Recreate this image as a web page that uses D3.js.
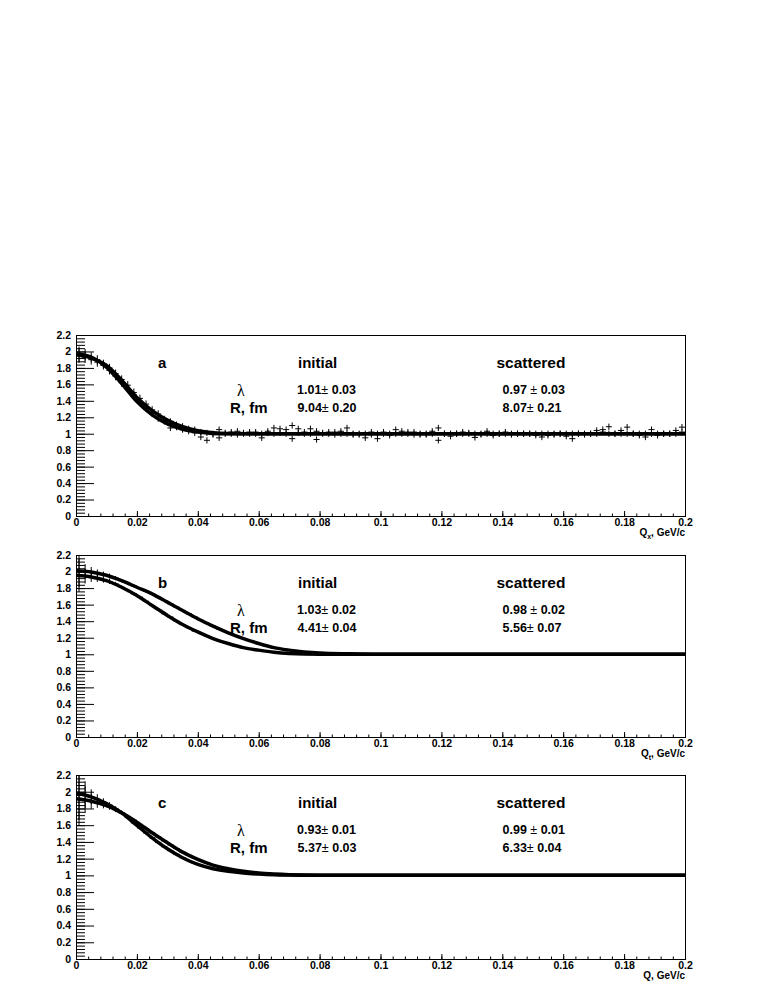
<!DOCTYPE html>
<html lang="en">
<head>
<meta charset="UTF-8" />
<title>Correlation functions - initial and scattered</title>
<script src="https://cdn.jsdelivr.net/npm/d3@7"></script>
<style>
  body { margin: 0; background: #fff; }
  svg { display: block; font-family: "Liberation Sans", Arial, Helvetica, sans-serif; }
  .tick text { font-size: 10.5px; font-weight: bold; fill: #000; }
  .tick line { stroke: #000; }
  .lbl { font-weight: bold; fill: #000; }
</style>
</head>
<body>
<svg id="chart" width="763" height="987"></svg>
<script>
// ---- data ----
const binWidth = 0.002;
const yTickValues = [0, 0.2, 0.4, 0.6, 0.8, 1, 1.2, 1.4, 1.6, 1.8, 2, 2.2];
const xTickValues = [0, 0.02, 0.04, 0.06, 0.08, 0.1, 0.12, 0.14, 0.16, 0.18, 0.2];

const panelNames = ['a', 'b', 'c'];
const axisSubscripts = ['x', 't', ''];

const lambdaInitial = [1.01, 1.03, 0.93];
const lambdaInitialErr = [0.03, 0.02, 0.01];
const radiusInitial = [9.04, 4.41, 5.37];
const radiusInitialErr = [0.20, 0.04, 0.03];
const lambdaScattered = [0.97, 0.98, 0.99];
const lambdaScatteredErr = [0.03, 0.02, 0.01];
const radiusScattered = [8.07, 5.56, 6.33];
const radiusScatteredErr = [0.21, 0.07, 0.04];

// fitted curves
const qFitA = [0, 0.005, 0.01, 0.015, 0.02, 0.025, 0.03, 0.035, 0.04, 0.045, 0.05, 0.06, 0.2];
const fitInitialA = [1.98, 1.93, 1.81, 1.61, 1.39, 1.23, 1.12, 1.055, 1.02, 1.004, 1.0, 1.0, 1.0];
const fitScatteredA = [1.96, 1.92, 1.83, 1.65, 1.44, 1.28, 1.165, 1.085, 1.037, 1.012, 1.003, 1.0, 1.0];

const qFitB = [0, 0.005, 0.01, 0.015, 0.02, 0.025, 0.03, 0.035, 0.04, 0.045, 0.05, 0.055, 0.06, 0.065, 0.07, 0.08, 0.09, 0.1, 0.2];
const fitInitialB = [2.01, 1.995, 1.955, 1.89, 1.81, 1.73, 1.63, 1.53, 1.43, 1.34, 1.26, 1.19, 1.13, 1.08, 1.05, 1.015, 1.005, 1.0, 1.0];
const fitScatteredB = [1.955, 1.935, 1.89, 1.81, 1.71, 1.59, 1.47, 1.36, 1.27, 1.19, 1.13, 1.08, 1.05, 1.025, 1.01, 1.0, 1.0, 1.0, 1.0];

const qFitC = [0, 0.005, 0.01, 0.015, 0.02, 0.025, 0.03, 0.035, 0.04, 0.045, 0.05, 0.055, 0.06, 0.065, 0.07, 0.08, 0.2];
const fitInitialC = [1.915, 1.887, 1.835, 1.748, 1.636, 1.509, 1.39, 1.278, 1.191, 1.123, 1.08, 1.048, 1.028, 1.016, 1.008, 1.002, 1.0];
const fitScatteredC = [1.986, 1.939, 1.859, 1.748, 1.597, 1.449, 1.318, 1.211, 1.131, 1.08, 1.048, 1.028, 1.016, 1.008, 1.004, 1.0, 1.0];

// measured points, one value per 0.002 bin starting at Q = 0
const pointsInitialA = [
  1.97, 1.96, 1.93, 1.90, 1.85, 1.80, 1.73, 1.66, 1.59, 1.50,
  1.43, 1.36, 1.29, 1.24, 1.18, 1.15, 1.11, 1.09, 1.06, 1.05,
  1.02, 1.01, 1.00, 1.05, 1.01, 1.02, 1.03, 1.01, 1.02, 1.02,
  0.95, 1.03, 1.07, 1.06, 1.05, 1.10, 1.06, 1.02, 1.06, 1.03,
  1.01, 1.02, 1.02, 1.03, 1.07, 1.00, 0.99, 0.95, 1.02, 0.94,
  1.02, 0.98, 1.05, 1.03, 1.02, 1.02, 1.00, 1.00, 1.03, 1.07,
  1.00, 0.97, 1.00, 1.00, 1.01, 0.955, 1.00, 1.03, 0.98, 1.00,
  1.02, 1.00, 1.00, 1.00, 1.00, 0.98, 0.96, 0.98, 1.00, 1.00,
  0.97, 0.94, 1.00, 1.00, 1.00, 1.04, 1.05, 1.085, 1.00, 1.04,
  1.08, 1.00, 0.98, 0.96, 1.05, 1.00, 1.00, 1.00, 1.04, 1.08
];
const pointsScatteredA = [
  1.95, 1.93, 1.90, 1.87, 1.83, 1.77, 1.70, 1.62, 1.55, 1.47,
  1.38, 1.31, 1.25, 1.19, 1.15, 1.07, 1.08, 1.05, 1.03, 1.01,
  0.96, 0.92, 0.99, 0.95, 1.00, 1.00, 0.99, 1.00, 1.00, 1.00,
  1.00, 1.01, 1.00, 1.01, 1.00, 0.94, 1.01, 1.00, 1.00, 0.93,
  1.00, 1.00, 0.99, 1.00, 1.00, 0.99, 1.00, 1.00, 0.99, 1.00,
  1.00, 1.00, 1.00, 1.00, 1.00, 0.99, 0.99, 0.99, 1.00, 0.92,
  1.00, 1.00, 1.00, 1.02, 1.00, 1.00, 0.99, 1.00, 1.00, 1.00,
  1.00, 0.99, 1.00, 1.00, 1.00, 1.00, 1.00, 1.00, 0.99, 1.00,
  1.00, 1.00, 1.00, 0.99, 1.00, 1.00, 1.02, 1.00, 1.00, 1.00,
  1.00, 1.00, 1.00, 1.00, 1.00, 0.98, 1.00, 1.00, 1.00, 1.02
];
const errorsA = [0.09, 0.07, 0.06, 0.055, 0.05, 0.05, 0.05, 0.05, 0.05, 0.05, 0.045, 0.045, 0.045, 0.045];
const flatErrorA = 0.038;

const pointsInitialB = [
  2.01, 2.00, 1.995, 1.98, 1.965, 1.945, 1.92, 1.89, 1.86, 1.825,
  1.795, 1.76, 1.73, 1.69, 1.65, 1.61, 1.57, 1.53, 1.49, 1.45,
  1.41, 1.375, 1.34, 1.305, 1.275, 1.245, 1.215, 1.19, 1.165, 1.14,
  1.12, 1.10, 1.08, 1.065, 1.055, 1.045, 1.035, 1.03, 1.02, 1.015,
  1.012, 1.01, 1.008, 1.006, 1.005, 1.004, 1.003, 1.002, 1.001, 1.00
];
const pointsScatteredB = [
  1.955, 1.945, 1.935, 1.92, 1.90, 1.88, 1.85, 1.81, 1.77, 1.73,
  1.69, 1.64, 1.59, 1.54, 1.49, 1.45, 1.40, 1.36, 1.32, 1.28,
  1.25, 1.22, 1.19, 1.165, 1.14, 1.12, 1.10, 1.08, 1.065, 1.055,
  1.045, 1.035, 1.025, 1.02, 1.015, 1.01, 1.008, 1.006, 1.004, 1.003,
  1.002, 1.001, 1.00, 1.00, 1.00, 1.00, 1.00, 1.00, 1.00, 1.00
];
const errorsB = [0.2, 0.09, 0.06, 0.045, 0.035, 0.03, 0.025, 0.02, 0.02, 0.018, 0.016, 0.015];
const flatErrorB = 0.012;

const pointsInitialC = [
  1.913, 1.905, 1.887, 1.868, 1.846, 1.82, 1.787, 1.748, 1.705, 1.66,
  1.61, 1.56, 1.509, 1.46, 1.413, 1.365, 1.32, 1.278, 1.24, 1.205,
  1.175, 1.148, 1.123, 1.105, 1.088, 1.073, 1.06, 1.048, 1.04, 1.032,
  1.026, 1.02, 1.016, 1.013, 1.01, 1.007, 1.005, 1.004, 1.003, 1.002,
  1.001, 1.001, 1.00, 1.00, 1.00, 1.00, 1.00, 1.00, 1.00, 1.00
];
const pointsScatteredC = [
  1.983, 1.965, 1.939, 1.91, 1.877, 1.84, 1.796, 1.748, 1.69, 1.627,
  1.567, 1.508, 1.449, 1.393, 1.342, 1.295, 1.252, 1.211, 1.176, 1.145,
  1.12, 1.098, 1.08, 1.066, 1.053, 1.043, 1.035, 1.028, 1.022, 1.018,
  1.014, 1.011, 1.008, 1.006, 1.005, 1.004, 1.003, 1.002, 1.001, 1.00,
  1.00, 1.00, 1.00, 1.00, 1.00, 1.00, 1.00, 1.00, 1.00, 1.00
];
const errorsC = [0.32, 0.16, 0.09, 0.06, 0.045, 0.035, 0.03, 0.025, 0.022, 0.02, 0.018, 0.016, 0.015];
const flatErrorC = 0.012;

// ---- layout ----
const frames = [
  { top: 335, bottom: 516 },
  { top: 555, bottom: 737 },
  { top: 775, bottom: 959 }
];

const panelData = [
  { qFit: qFitA, fits: [fitInitialA, fitScatteredA], points: [pointsInitialA, pointsScatteredA], errs: errorsA, flatErr: flatErrorA },
  { qFit: qFitB, fits: [fitInitialB, fitScatteredB], points: [pointsInitialB, pointsScatteredB], errs: errorsB, flatErr: flatErrorB },
  { qFit: qFitC, fits: [fitInitialC, fitScatteredC], points: [pointsInitialC, pointsScatteredC], errs: errorsC, flatErr: flatErrorC }
];

const svg = d3.select('#chart');
const x = d3.scaleLinear().domain([0, 0.2]).range([76, 685]);
const yMinor = d3.range(0, 2.2001, 0.04);
const xMinor = d3.range(0, 0.2001, 0.004);

const fmt = v => v.toFixed(2);

const drawPanel = (i) => {
  const f = frames[i];
  const pd = panelData[i];
  const y = d3.scaleLinear().domain([0, 2.2]).range([f.bottom, f.top]);
  const g = svg.append('g');

  const clipId = 'clip' + i;
  svg.append('clipPath').attr('id', clipId)
    .append('rect')
    .attr('x', x(0)).attr('y', f.top)
    .attr('width', x(0.2) - x(0)).attr('height', f.bottom - f.top);

  // y axis: minor then major ticks, pointing inwards
  g.append('g')
    .attr('transform', `translate(${x(0)},0)`)
    .call(d3.axisLeft(y).tickValues(yMinor).tickSize(-9).tickFormat(''))
    .call(s => s.select('.domain').remove());
  g.append('g')
    .attr('transform', `translate(${x(0)},0)`)
    .call(d3.axisLeft(y).tickValues(yTickValues).tickSize(-18).tickPadding(5)
      .tickFormat(d => String(+d.toFixed(1))))
    .call(s => s.select('.domain').remove());

  // x axis
  g.append('g')
    .attr('transform', `translate(0,${f.bottom})`)
    .call(d3.axisBottom(x).tickValues(xMinor).tickSize(-2.5).tickFormat(''))
    .call(s => s.select('.domain').remove());
  g.append('g')
    .attr('transform', `translate(0,${f.bottom})`)
    .call(d3.axisBottom(x).tickValues(xTickValues).tickSize(-5).tickPadding(3)
      .tickFormat(d => String(+d.toFixed(2))))
    .call(s => s.select('.domain').remove());

  // frame
  g.append('rect')
    .attr('x', Math.round(x(0)) + 0.5).attr('y', f.top + 0.5)
    .attr('width', Math.round(x(0.2) - x(0))).attr('height', f.bottom - f.top)
    .attr('fill', 'none').attr('stroke', '#000').attr('stroke-width', 1);

  // data points with error bars
  const plot = g.append('g').attr('clip-path', `url(#${clipId})`);
  pd.points.forEach(series => {
    plot.append('g').selectAll('path')
      .data(series.map((v, k) => ({ q: (k + 0.5) * binWidth, v, e: pd.errs[k] ?? pd.flatErr })))
      .join('path')
      .attr('d', d => `M${x(d.q - binWidth / 2)},${y(d.v)}H${x(d.q + binWidth / 2)}` +
                      `M${x(d.q)},${y(d.v - d.e)}V${y(d.v + d.e)}`)
      .attr('fill', 'none').attr('stroke', '#000').attr('stroke-width', 1);
  });

  // fitted curves
  const line = d3.line().x(d => x(d[0])).y(d => y(d[1])).curve(d3.curveMonotoneX);
  pd.fits.forEach(fit => {
    plot.append('path')
      .datum(pd.qFit.map((q, k) => [q, fit[k]]))
      .attr('d', line)
      .attr('fill', 'none').attr('stroke', '#000').attr('stroke-width', 3.5);
  });

  // texts
  const t = f.top;
  g.append('text').attr('class', 'lbl').attr('x', 158).attr('y', t + 33)
    .style('font-size', '15px').text(panelNames[i]);
  g.append('text').attr('class', 'lbl').attr('x', 298).attr('y', t + 32.5)
    .style('font-size', '15px').text('initial');
  g.append('text').attr('class', 'lbl').attr('x', 496.5).attr('y', t + 32.5)
    .style('font-size', '15.5px').text('scattered');
  g.append('text').attr('x', 237).attr('y', t + 60.5)
    .style('font-family', '"Liberation Serif", "Times New Roman", serif')
    .style('font-size', '16px').text('\u03bb');
  g.append('text').attr('class', 'lbl').attr('x', 230).attr('y', t + 77.5)
    .style('font-size', '15px').text('R, fm');

  const valueText = (xPos, yPos, v, e, spaced) => {
    const tx = g.append('text').attr('class', 'lbl').attr('x', xPos).attr('y', yPos)
      .style('font-size', '12.5px');
    tx.append('tspan').text(fmt(v) + (spaced ? ' ' : ''));
    tx.append('tspan').style('font-weight', 'normal').text('\u00b1');
    tx.append('tspan').text(' ' + fmt(e));
  };
  valueText(297, t + 58.5, lambdaInitial[i], lambdaInitialErr[i], false);
  valueText(297.5, t + 76.5, radiusInitial[i], radiusInitialErr[i], false);
  valueText(502.5, t + 58.5, lambdaScattered[i], lambdaScatteredErr[i], true);
  valueText(502.5, t + 76.5, radiusScattered[i], radiusScatteredErr[i], false);

  // axis title, right aligned at the end of the axis, just under the last label
  const title = g.append('text').attr('class', 'lbl')
    .attr('x', x(0.2)).attr('y', f.bottom + 20)
    .attr('text-anchor', 'end').style('font-size', '10px');
  title.append('tspan').text('Q');
  if (axisSubscripts[i]) {
    title.append('tspan').attr('dy', 2.5).style('font-size', '7px').text(axisSubscripts[i]);
    title.append('tspan').attr('dy', -2.5).text(', GeV/c');
  } else {
    title.append('tspan').text(', GeV/c');
  }
};

panelNames.forEach((name, i) => drawPanel(i));
</script>
</body>
</html>
